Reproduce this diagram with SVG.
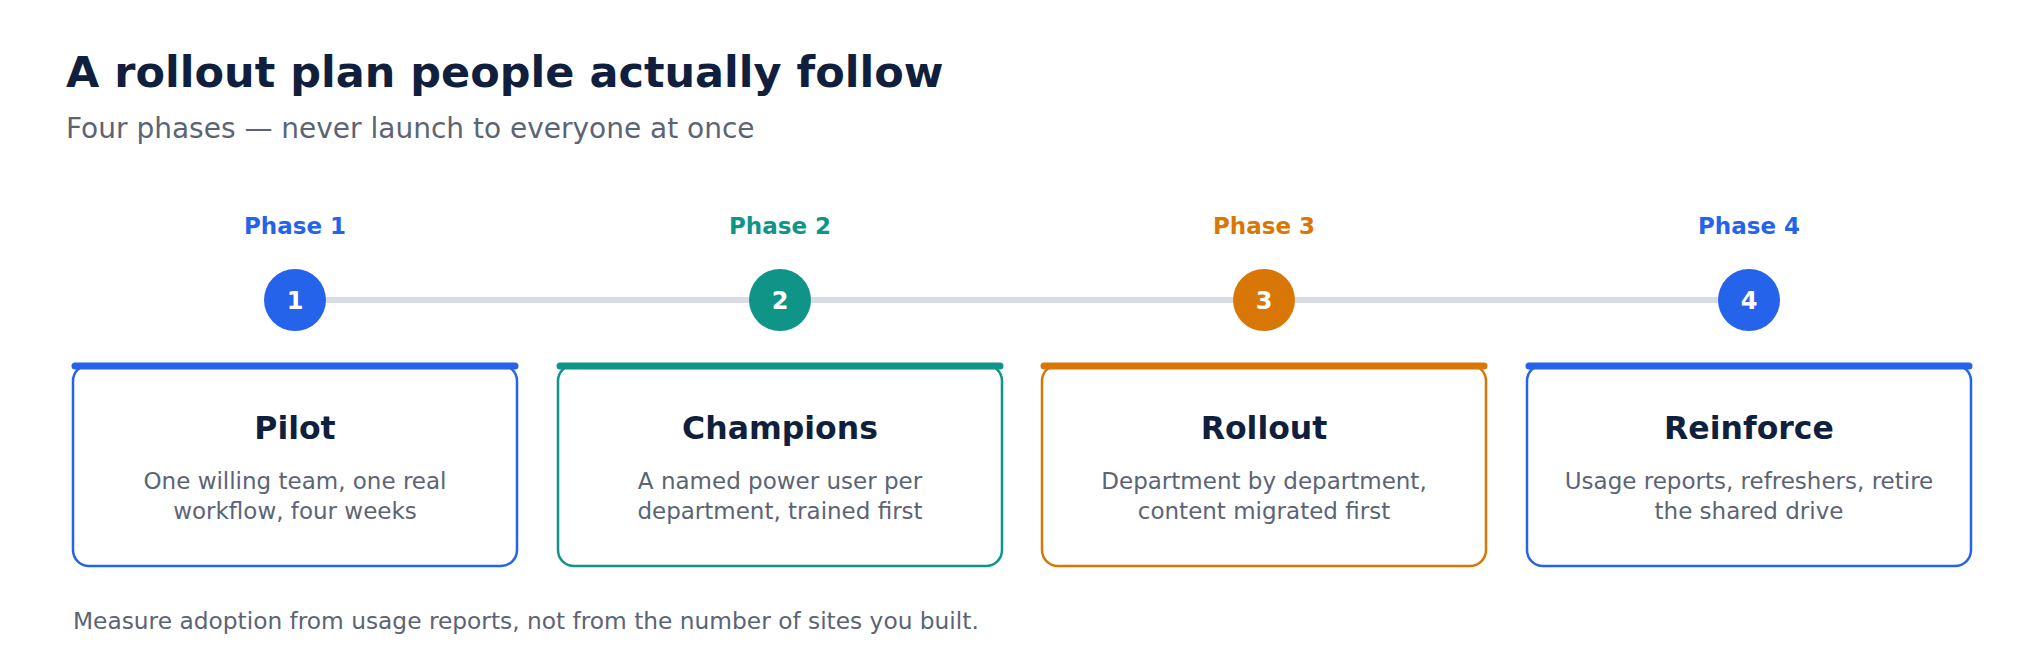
<svg xmlns="http://www.w3.org/2000/svg" width="2044" height="671" viewBox="0 0 2044 671">
<style>
text{font-family:"DejaVu Sans","Noto Sans",sans-serif}
.title{font-size:43px;font-weight:bold;fill:#0f1f3d}
.sub{font-size:28px;fill:#5b6474}
.ph{font-size:23px;font-weight:bold;text-anchor:middle}
.num{font-size:24px;font-weight:bold;fill:#fff;text-anchor:middle}
.ct{font-size:31.5px;font-weight:bold;fill:#0f1f3d;text-anchor:middle}
.cd{font-size:23px;fill:#5b6474;text-anchor:middle}
.card{fill:#fff;stroke-width:2.5}
.foot{font-size:23.3px;fill:#5b6474}
</style>
<rect width="2044" height="671" fill="#fff"/>
<text class="title" x="66" y="87">A rollout plan people actually follow</text>
<text class="sub" x="66" y="138">Four phases — never launch to everyone at once</text>
<g id="connectors"><line x1="295" y1="300" x2="1749" y2="300" stroke="#d8dde5" stroke-width="6"/></g>
<g id="phase1">
<text class="ph" x="295" y="234" fill="#2563eb">Phase 1</text>
<circle cx="295" cy="300" r="31" fill="#2563eb"/><text class="num" x="295" y="309">1</text>
<rect class="card" x="73" y="365" width="444" height="201" rx="16" stroke="#2563eb"/>
<line x1="75" y1="366" x2="515" y2="366" stroke="#2563eb" stroke-width="7" stroke-linecap="round"/>
<text class="ct" x="295" y="439">Pilot</text>
<text class="cd" x="295" y="489">One willing team, one real</text>
<text class="cd" x="295" y="519">workflow, four weeks</text>
</g>
<g id="phase2">
<text class="ph" x="780" y="234" fill="#0f9488">Phase 2</text>
<circle cx="780" cy="300" r="31" fill="#0f9488"/><text class="num" x="780" y="309">2</text>
<rect class="card" x="558" y="365" width="444" height="201" rx="16" stroke="#0f9488"/>
<line x1="560" y1="366" x2="1000" y2="366" stroke="#0f9488" stroke-width="7" stroke-linecap="round"/>
<text class="ct" x="780" y="439">Champions</text>
<text class="cd" x="780" y="489">A named power user per</text>
<text class="cd" x="780" y="519">department, trained first</text>
</g>
<g id="phase3">
<text class="ph" x="1264" y="234" fill="#d97706">Phase 3</text>
<circle cx="1264" cy="300" r="31" fill="#d97706"/><text class="num" x="1264" y="309">3</text>
<rect class="card" x="1042" y="365" width="444" height="201" rx="16" stroke="#d97706"/>
<line x1="1044" y1="366" x2="1484" y2="366" stroke="#d97706" stroke-width="7" stroke-linecap="round"/>
<text class="ct" x="1264" y="439">Rollout</text>
<text class="cd" x="1264" y="489">Department by department,</text>
<text class="cd" x="1264" y="519">content migrated first</text>
</g>
<g id="phase4">
<text class="ph" x="1749" y="234" fill="#2563eb">Phase 4</text>
<circle cx="1749" cy="300" r="31" fill="#2563eb"/><text class="num" x="1749" y="309">4</text>
<rect class="card" x="1527" y="365" width="444" height="201" rx="16" stroke="#2563eb"/>
<line x1="1529" y1="366" x2="1969" y2="366" stroke="#2563eb" stroke-width="7" stroke-linecap="round"/>
<text class="ct" x="1749" y="439">Reinforce</text>
<text class="cd" x="1749" y="489">Usage reports, refreshers, retire</text>
<text class="cd" x="1749" y="519">the shared drive</text>
</g>
<text class="foot" x="73" y="629">Measure adoption from usage reports, not from the number of sites you built.</text>
</svg>
